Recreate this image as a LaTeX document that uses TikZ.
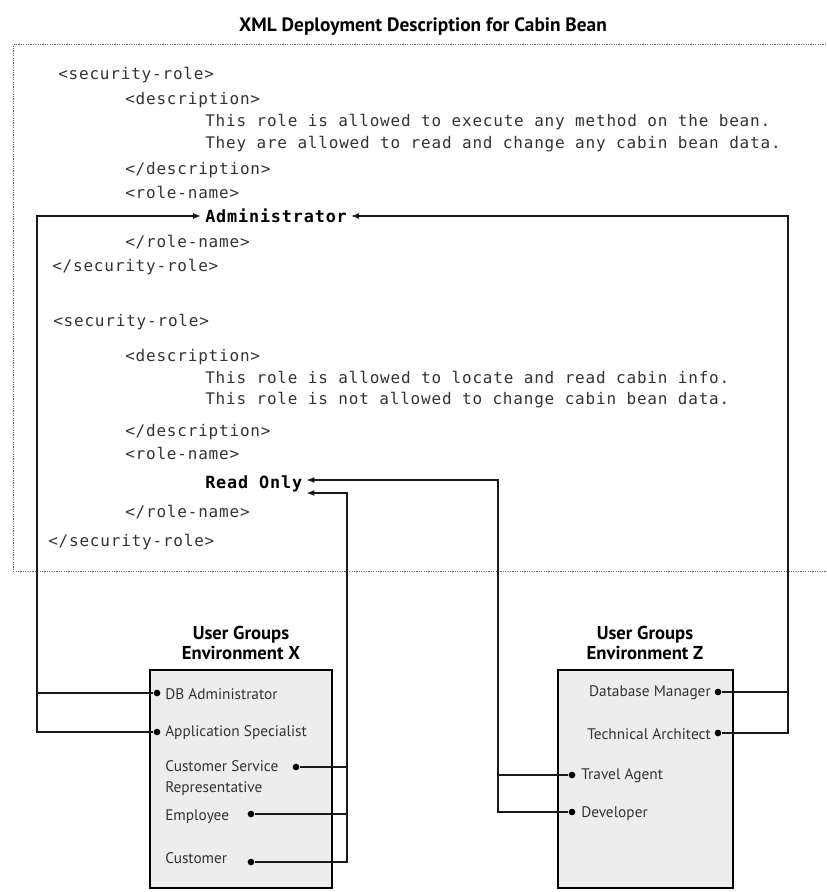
\documentclass[tikz,border=0pt]{standalone}
\usepackage{fontspec}
\setmainfont{PT Sans}
\newfontfamily\codefont[LetterSpace=5]{DejaVu Sans Mono}
\usetikzlibrary{arrows.meta,calc}

\tikzset{
  heading/.style={font=\bfseries\fontsize{14.5}{17}\selectfont, inner sep=0pt},
  grouptitle/.style={font=\bfseries\fontsize{14}{15.5}\selectfont, align=center, inner sep=0pt},
  code/.style={font=\codefont\fontsize{12}{14}\selectfont, text=black!80, anchor=west, inner sep=0pt},
  rolename/.style={font=\codefont\bfseries\fontsize{12.6}{14}\selectfont, text=black, anchor=west, inner xsep=3pt, inner ysep=0pt},
  frame/.style={draw=black!60, line width=0.75pt, dash pattern=on 0.9pt off 0.9pt},
  panel/.style={draw=black, line width=1.5pt, fill=black!7},
  member/.style={font=\fontsize{11.5}{16}\selectfont, text=black!80, inner sep=0pt, align=left},
  dot/.style={circle, fill=black, inner sep=0pt, minimum size=5pt},
  link/.style={draw=black!90, line width=0.9pt},
  tip/.style={-{Latex[length=6pt,width=4.5pt]}},
}

\begin{document}
\begin{tikzpicture}[x=0.75pt,y=-0.75pt]
\useasboundingbox (0,0) rectangle (826,892);

% title and the dotted frame round the deployment descriptor
\node[heading] (title) at (423,27) {XML Deployment Description for Cabin Bean};
\draw[frame] (826,45) -- (13,45) -- (13,571) -- (826,571);

% first security role
\node[code] (sr1) at (58,75)  {<security-role>};
\node[code] (de1) at (125,100) {<description>};
\node[code] (tx1) at (205,122) {This role is allowed to execute any method on the bean.};
\node[code] (tx2) at (205,144) {They are allowed to read and change any cabin bean data.};
\node[code] (ed1) at (125,170) {</description>};
\node[code] (rn1) at (125,192) {<role-name>};
\node[rolename] (adm) at (201,216) {Administrator};
\node[code] (er1) at (125,242) {</role-name>};
\node[code] (es1) at (52,267)  {</security-role>};

% second security role
\node[code] (sr2) at (53,322)  {<security-role>};
\node[code] (de2) at (125,357) {<description>};
\node[code] (tx3) at (205,377) {This role is allowed to locate and read cabin info.};
\node[code] (tx4) at (205,400) {This role is not allowed to change cabin bean data.};
\node[code] (ed2) at (125,432) {</description>};
\node[code] (rn2) at (125,453) {<role-name>};
\node[rolename] (ro) at (201,484) {Read Only};
\node[code] (er2) at (125,512) {</role-name>};
\node[code] (es2) at (48,542)  {</security-role>};

% user groups of environment X
\node[grouptitle] (tX) at (241,643) {User Groups\\Environment X};
\node[panel, minimum width=136.5pt, minimum height=163.5pt] (boxX) at (241,779) {};
\node[member, anchor=west] (lDBA) at (165,694) {DB Administrator};
\node[member, anchor=west] (lApp) at (165,733) {Application Specialist};
\node[member, anchor=west] (lCSR) at (165,778) {Customer Service\\Representative};
\node[member, anchor=west] (lEmp) at (165,817) {Employee};
\node[member, anchor=west] (lCus) at (165,858) {Customer};
\node[dot] (dDBA) at (157,693) {};
\node[dot] (dApp) at (157,732) {};
\node[dot] (dCSR) at (296,767) {};
\node[dot] (dEmp) at (251,814) {};
\node[dot] (dCus) at (251,862) {};

% user groups of environment Z
\node[grouptitle] (tZ) at (645,643) {User Groups\\Environment Z};
\node[panel, minimum width=131.25pt, minimum height=163.5pt] (boxZ) at (645.5,779) {};
\node[member, anchor=east] (lDBM) at (711,693) {Database Manager};
\node[member, anchor=east] (lTA)  at (711,734) {Technical Architect};
\node[member, anchor=west] (lTrv) at (581,776) {Travel Agent};
\node[member, anchor=west] (lDev) at (581,814) {Developer};
\node[dot] (dDBM) at (718,692) {};
\node[dot] (dTA)  at (718,733) {};
\node[dot] (dTrv) at (572,775) {};
\node[dot] (dDev) at (572,812) {};

% x positions of the vertical bus lines
\coordinate (xA) at (37,0);
\coordinate (xB) at (788,0);
\coordinate (xC) at (347,0);
\coordinate (xD) at (498,0);
\coordinate (roUp)  at ([yshift=3pt]ro.east);
\coordinate (roLow) at ([yshift=-6.75pt]ro.east);

% role mappings
\draw[link] (dDBA) -| (adm.west -| xA);
\draw[link,tip] (dApp) -| (adm.west -| xA) -- (adm.west);
\draw[link] (dDBM) -| (adm.east -| xB);
\draw[link,tip] (dTA) -| (adm.east -| xB) -- (adm.east);
\draw[link] (dCSR) -| (roLow -| xC);
\draw[link] (dEmp) -| (roLow -| xC);
\draw[link,tip] (dCus) -| (roLow -| xC) -- (roLow);
\draw[link] (dTrv) -| (roUp -| xD);
\draw[link,tip] (dDev) -| (roUp -| xD) -- (roUp);
\end{tikzpicture}
\end{document}
